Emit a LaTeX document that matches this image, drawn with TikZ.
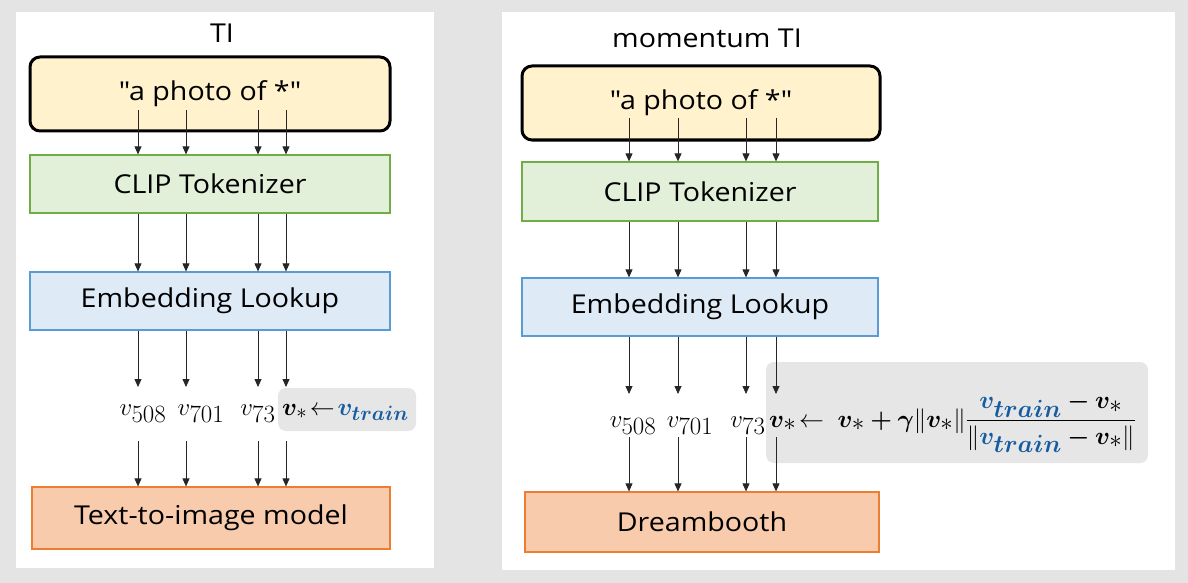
\documentclass[tikz,border=0pt]{standalone}
\usepackage{amsmath}
\usepackage{bm}
\usepackage{fontspec}
\setmainfont{Open Sans}[FakeStretch=1.1,Ligatures=TeXOff]
\usetikzlibrary{arrows.meta}
\definecolor{bgc}{RGB}{228,228,228}
\definecolor{yfill}{RGB}{255,242,204}
\definecolor{gfill}{RGB}{226,240,217}
\definecolor{gdraw}{RGB}{112,173,71}
\definecolor{bfill}{RGB}{222,235,247}
\definecolor{bdraw}{RGB}{91,155,213}
\definecolor{ofill}{RGB}{248,203,173}
\definecolor{odraw}{RGB}{237,125,49}
\definecolor{grayb}{RGB}{230,230,230}
\definecolor{tblue}{RGB}{22,92,160}
\newcommand\myv{\bm{v}}
\newcommand\mytrain{{\color{tblue}\bm{v}_{\bm{train}}}}
\tikzset{
  panel/.style={fill=white,draw=none},
  ybox/.style={draw=black,line width=3pt,fill=yfill,rounded corners=10pt,txt},
  gbox/.style={draw=gdraw,line width=1.2pt,fill=gfill,txt},
  bbox/.style={draw=bdraw,line width=1.2pt,fill=bfill,txt},
  obox/.style={draw=odraw,line width=1.2pt,fill=ofill,txt},
  txt/.style={font=\fontsize{26}{30}\selectfont,text=black},
  ttl/.style={font=\fontsize{26}{30}\selectfont},
  arr/.style={-{Triangle[length=8pt,width=7pt]},draw=black!85,line width=0.8pt},
  lab/.style={font=\fontsize{33}{38}\selectfont,anchor=base,inner sep=0pt},
  labs/.style={font=\fontsize{31}{36}\selectfont,anchor=base west,inner sep=0pt},
  graybox/.style={fill=grayb,draw=none,rounded corners=8pt}
}
\begin{document}
\begin{tikzpicture}[x=1pt,y=-1pt]
\useasboundingbox[fill=bgc] (0,0) rectangle (1188,583);
% panels
\path[panel] (16,12) rectangle (434,568);
\path[panel] (502,12) rectangle (1175,570);
\node[ttl] (t1) at (222,33) {TI};
\node[ttl] (t2) at (707,38) {momentum TI};
% left column
\node[ybox,minimum width=360pt,minimum height=74pt] (ly) at (210,94) {"a photo of *"};
\node[gbox,minimum width=360pt,minimum height=58pt] (lg) at (210,184) {CLIP Tokenizer};
\node[bbox,minimum width=360pt,minimum height=58pt] (lb) at (210,301) {Embedding Lookup};
\node[obox,minimum width=358pt,minimum height=62pt] (lo) at (211,518) {Text-to-image model};
\path[graybox] (278,388) rectangle (416,431);
\node[lab] (lv1) at (143,415) {$v_{508}$};
\node[lab] (lv2) at (201,415) {$v_{701}$};
\node[lab] (lv3) at (258,415) {$v_{73}$};
\node[labs] (lv4) at (282,415) {$\myv_*\!\leftarrow\!\mytrain$};
% right column
\node[ybox,minimum width=358pt,minimum height=74pt] (ry) at (701,103) {"a photo of *"};
\node[gbox,minimum width=356pt,minimum height=59pt] (rg) at (700,191.5) {CLIP Tokenizer};
\node[bbox,minimum width=356pt,minimum height=58pt] (rb) at (700,307) {Embedding Lookup};
\node[obox,minimum width=354pt,minimum height=60pt] (ro) at (702,522) {Dreambooth};
\path[graybox] (766,362) rectangle (1148,463);
\node[lab] (rv1) at (633,427) {$v_{508}$};
\node[lab] (rv2) at (690,427) {$v_{701}$};
\node[lab] (rv3) at (748,427) {$v_{73}$};
\node[lab,anchor=base west] (rv4) at (769,427) {$\myv_*\!\leftarrow\;\myv_*\bm{+}\bm{\gamma}\|\myv_*\|\dfrac{\mytrain\bm{-}\myv_*}{\|\mytrain\bm{-}\myv_*\|}$};
% arrow coordinates
\foreach \i/\x in {1/138,2/186,3/258,4/286}{
  \coordinate (la\i) at (\x,110);
  \coordinate (lc\i) at (\x,387);
  \coordinate (ld\i) at (\x,441);
}
\foreach \i/\x in {1/629,2/678,3/746,4/776}{
  \coordinate (ra\i) at (\x,118);
  \coordinate (rc\i) at (\x,394);
  \coordinate (rd\i) at (\x,437);
}
\foreach \i in {1,2,3,4}{
  \draw[arr] (la\i) -- (lg.north -| la\i);
  \draw[arr] (lg.south -| la\i) -- (lb.north -| la\i);
  \draw[arr] (lb.south -| la\i) -- (lc\i);
  \draw[arr] (ld\i) -- (lo.north -| ld\i);
  \draw[arr] (ra\i) -- (rg.north -| ra\i);
  \draw[arr] (rg.south -| ra\i) -- (rb.north -| ra\i);
  \draw[arr] (rb.south -| ra\i) -- (rc\i);
  \draw[arr] (rd\i) -- (ro.north -| rd\i);
}
\end{tikzpicture}
\end{document}
